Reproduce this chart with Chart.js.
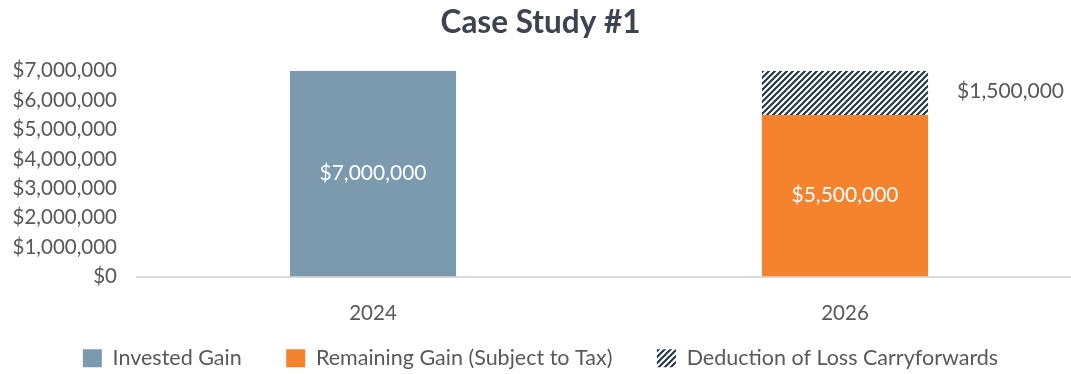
<!DOCTYPE html>
<html>
<head>
<meta charset="utf-8">
<script src="https://cdn.jsdelivr.net/npm/chart.js@4"></script>
<style>
  html, body { margin: 0; padding: 0; background: #fff; overflow: hidden; }
  #wrap { width: 1088px; height: 374px; }
</style>
</head>
<body>
<div id="wrap"><canvas id="caseChart"></canvas></div>
<script>
const years = ['2024', '2026'];
const investedGain = [7000000, null];
const remainingGain = [null, 5500000];
const lossDeduction = [null, 1500000];
const yTicks = [0, 1000000, 2000000, 3000000, 4000000, 5000000, 6000000, 7000000];

const FONT = 'Lato, "Open Sans", sans-serif';
const grey = '#595959';
const legendSize = 21.5;

// diagonal stripes like the Excel pattern fill
function makeHatch() {
    const c = document.createElement('canvas');
    c.width = 6; c.height = 6;
    const g = c.getContext('2d');
    g.fillStyle = '#fff';
    g.fillRect(0, 0, 6, 6);
    g.strokeStyle = '#1e3440';
    g.lineWidth = 2;
    g.beginPath();
    g.moveTo(-1, 7); g.lineTo(7, -1);
    g.moveTo(-4, 4); g.lineTo(4, -4);
    g.moveTo(2, 10); g.lineTo(10, 2);
    g.stroke();
    return g.createPattern(c, 'repeat');
}
const hatch = makeHatch();

const money = v => '$' + v.toLocaleString('en-US');

// legend padding also adds height, so widen the gaps with trailing spaces instead
const measure = document.createElement('canvas').getContext('2d');
measure.font = legendSize + 'px ' + FONT;
const gapSpaces = ' '.repeat(Math.max(1, Math.round(29 / measure.measureText(' ').width)));

// simple value labels, drawn after the bars
const valueLabels = {
    id: 'valueLabels',
    afterDatasetsDraw(chart) {
        const ctx = chart.ctx;
        ctx.save();
        ctx.font = '21px ' + FONT;
        ctx.textBaseline = 'middle';
        chart.data.datasets.forEach((ds, i) => {
            const meta = chart.getDatasetMeta(i);
            meta.data.forEach((bar, j) => {
                const v = ds.data[j];
                if (v == null) return;
                const mid = (bar.y + bar.base) / 2;
                if (ds.labelOutside) {
                    ctx.fillStyle = grey;
                    ctx.textAlign = 'left';
                    ctx.fillText(money(v), bar.x + bar.width / 2 + 29, mid - 2);
                } else {
                    ctx.fillStyle = '#fff';
                    ctx.textAlign = 'center';
                    ctx.fillText(money(v), bar.x, mid);
                }
            });
        });
        ctx.restore();
    }
};

new Chart(document.getElementById('caseChart'), {
    type: 'bar',
    data: {
        labels: years,
        datasets: [
            { label: 'Invested Gain', data: investedGain, backgroundColor: '#7b9aae' },
            { label: 'Remaining Gain (Subject to Tax)', data: remainingGain, backgroundColor: '#f5822d' },
            { label: 'Deduction of Loss Carryforwards', data: lossDeduction, backgroundColor: hatch, labelOutside: true }
        ]
    },
    options: {
        responsive: true,
        maintainAspectRatio: false,
        animation: false,
        datasets: { bar: { categoryPercentage: 1, barPercentage: 0.352 } },
        layout: { padding: { left: 0, right: 7, top: 4, bottom: -5 } },
        plugins: {
            title: {
                display: true,
                text: 'Case Study #1',
                color: '#3d4450',
                font: { family: FONT, size: 31.5, weight: 'bold' },
                padding: { top: 0, bottom: 29 }
            },
            legend: {
                position: 'bottom',
                labels: {
                    color: grey,
                    font: { family: FONT, size: legendSize },
                    boxWidth: 19,
                    boxHeight: 18,
                    padding: 17,
                    generateLabels: chart => {
                        const items = Chart.defaults.plugins.legend.labels.generateLabels(chart);
                        items.forEach((it, k) => { if (k < items.length - 1) it.text += gapSpaces; });
                        return items;
                    }
                }
            },
            tooltip: { enabled: false }
        },
        scales: {
            x: {
                stacked: true,
                grid: { display: false },
                border: { color: '#d9d9d9', width: 2 },
                ticks: { color: grey, font: { family: FONT, size: 20.5 }, padding: 17 },
                afterFit: s => { s.height = 54; }
            },
            y: {
                stacked: true,
                min: 0,
                max: 7000000,
                afterBuildTicks: s => { s.ticks = yTicks.map(v => ({ value: v })); },
                afterFit: s => { s.width = 137; },
                grid: { display: false },
                border: { display: false },
                ticks: {
                    color: grey,
                    font: { family: FONT, size: 20.5 },
                    padding: 12,
                    autoSkip: false,
                    callback: v => money(v)
                }
            }
        }
    },
    plugins: [valueLabels]
});
</script>
</body>
</html>
